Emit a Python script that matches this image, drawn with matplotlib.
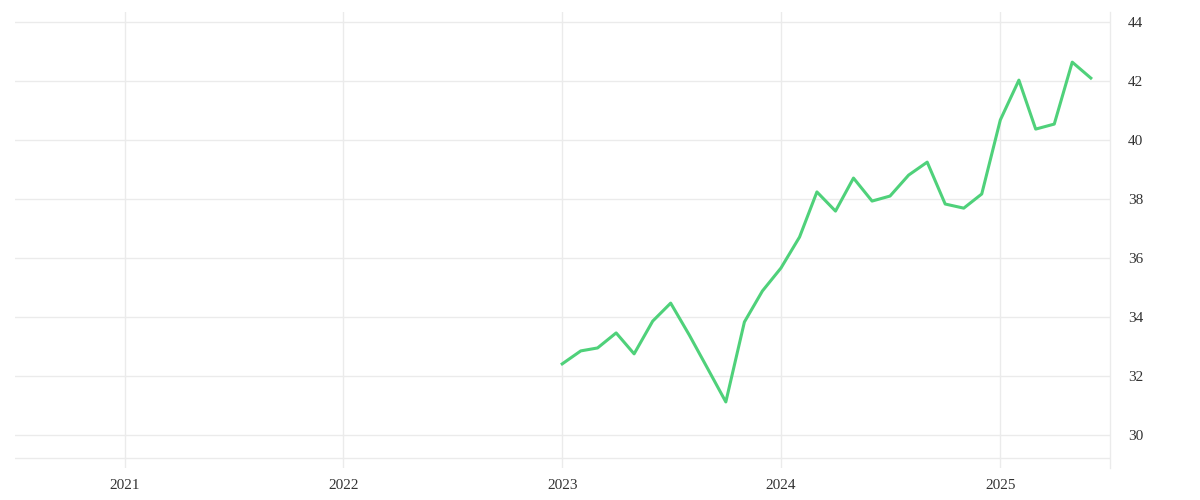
import matplotlib
matplotlib.use('Agg')
import matplotlib.pyplot as plt
import matplotlib.dates as mdates
import numpy as np
import pandas as pd

# monthly values, Jan 2023 - Jun 2025
months = pd.date_range('2023-01-01', '2025-06-01', freq='MS')
values = [32.41, 32.85, 32.95, 33.46, 32.75, 33.86, 34.47, 33.39, 32.24, 31.12, 33.83, 34.88,
          35.66, 36.71, 38.24, 37.59, 38.71, 37.93, 38.10, 38.81, 39.25, 37.83, 37.69, 38.17,
          40.68, 42.03, 40.37, 40.54, 42.64, 42.10]
year_ticks = ['2021', '2022', '2023', '2024', '2025']
y_ticks = [30, 32, 34, 36, 38, 40, 42, 44]

grid_col = '#ebebeb'
plt.rcParams['font.family'] = ['Liberation Serif', 'DejaVu Serif']

fig = plt.figure(figsize=(12, 5), dpi=100)
ax = fig.add_axes([15/1200, 1 - 468/500, 1095/1200, 456/500])

ax.plot(months, values, color='#4fd17a', linewidth=2.2, zorder=3)

ax.set_xlim(pd.Timestamp('2020-07-02'), pd.Timestamp('2025-07-03'))
ax.set_ylim(28.88, 44.34)

xt = [pd.Timestamp(y + '-01-01') for y in year_ticks]
ax.set_xticks(xt)
ax.set_xticklabels(year_ticks)
ax.set_yticks(y_ticks)
ax.yaxis.tick_right()

for t in xt:
    ax.axvline(t, color=grid_col, linewidth=1, zorder=1)
for v in y_ticks + [29.22]:
    ax.axhline(v, color=grid_col, linewidth=1, zorder=1)

for s in ['top', 'left', 'bottom']:
    ax.spines[s].set_visible(False)
ax.spines['right'].set_color(grid_col)
ax.spines['right'].set_linewidth(1)

ax.tick_params(axis='y', length=0, pad=13, labelsize=11, labelcolor='#333333')
ax.tick_params(axis='x', length=0, pad=8, labelsize=11, labelcolor='#333333')

fig.savefig('out.png', dpi=100)
